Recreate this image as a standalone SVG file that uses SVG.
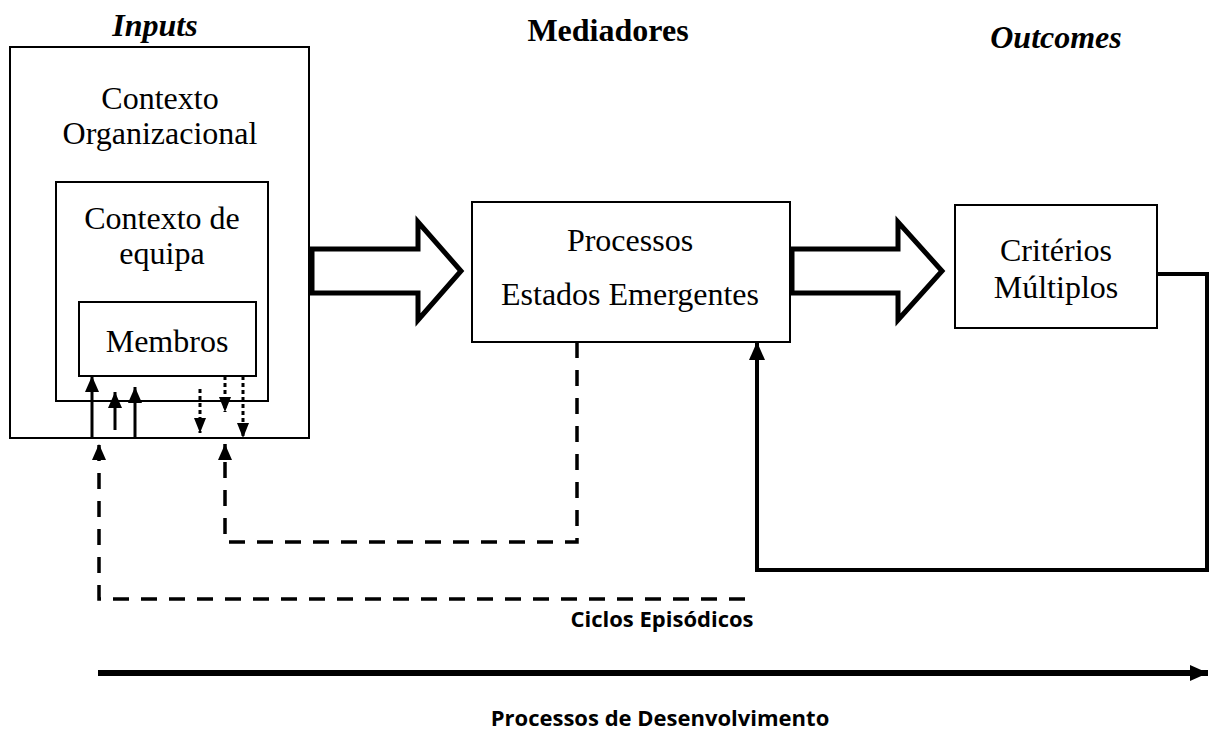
<svg xmlns="http://www.w3.org/2000/svg" width="1210" height="731" viewBox="0 0 1210 731">
<style>
.box{fill:#fff;stroke:#000;stroke-width:2}
.t{font-family:"Liberation Serif","Times New Roman",serif;font-size:32px;fill:#000;text-anchor:middle}
.h{font-family:"Liberation Serif","Times New Roman",serif;font-size:32px;font-weight:bold;fill:#000;text-anchor:middle}
.s{font-family:"Open Sans","Liberation Sans",sans-serif;font-size:22px;font-weight:bold;fill:#000;text-anchor:middle}
.big{fill:#fff;stroke:#000;stroke-width:5;stroke-linejoin:miter}
.solid{fill:none;stroke:#000;stroke-width:3}
.thick{fill:none;stroke:#000;stroke-width:4}
.dash{fill:none;stroke:#000;stroke-width:3.5;stroke-dasharray:16 12}
.dot{fill:none;stroke:#000;stroke-width:3;stroke-dasharray:4 3}
</style>
<defs>
<marker id="ah" markerUnits="userSpaceOnUse" markerWidth="16" markerHeight="14" refX="16" refY="7" orient="auto"><path d="M0,0 L16,7 L0,14 z" fill="#000"/></marker>
<marker id="ahs" markerUnits="userSpaceOnUse" markerWidth="15" markerHeight="12" refX="15" refY="6" orient="auto"><path d="M0,0 L15,6 L0,12 z" fill="#000"/></marker>
<marker id="ahl" markerUnits="userSpaceOnUse" markerWidth="18" markerHeight="16" refX="18" refY="8" orient="auto"><path d="M0,0 L18,8 L0,16 z" fill="#000"/></marker>
</defs>

<g id="headers">
<text class="h" x="155" y="36" font-style="italic">Inputs</text>
<text class="h" x="608" y="41">Mediadores</text>
<text class="h" x="1056" y="48" font-style="italic">Outcomes</text>
</g>

<g id="contexto-organizacional">
<rect class="box" x="10" y="47" width="299" height="391"/>
<text class="t" x="160" y="109">Contexto</text>
<text class="t" x="160" y="144">Organizacional</text>
</g>
<g id="contexto-equipa">
<rect class="box" x="56" y="182" width="212" height="219"/>
<text class="t" x="162" y="229">Contexto de</text>
<text class="t" x="162" y="264">equipa</text>
</g>
<g id="membros">
<rect class="box" x="79" y="302" width="177" height="74"/>
<text class="t" x="167" y="352">Membros</text>
</g>
<g id="processos">
<rect class="box" x="472" y="202" width="318" height="140"/>
<text class="t" x="630" y="251">Processos</text>
<text class="t" x="630" y="305">Estados Emergentes</text>
</g>
<g id="criterios">
<rect class="box" x="955" y="205" width="202" height="123"/>
<text class="t" x="1056" y="261">Critérios</text>
<text class="t" x="1056" y="298">Múltiplos</text>
</g>

<g id="connectors">
<polygon class="big" points="312,249 418,249 418,222 461,271 418,320 418,293 312,293"/>
<polygon class="big" points="792,249 898,249 898,222 942,271 898,320 898,293 792,293"/>
<line class="solid" x1="92" y1="438" x2="92" y2="376" marker-end="url(#ah)"/>
<line class="solid" x1="115" y1="430" x2="115" y2="392" marker-end="url(#ah)"/>
<line class="solid" x1="135" y1="438" x2="135" y2="387" marker-end="url(#ah)"/>
<line class="dot" x1="200" y1="389" x2="200" y2="433" marker-end="url(#ahs)"/>
<line class="dot" x1="225" y1="376" x2="225" y2="412" marker-end="url(#ahs)"/>
<line class="dot" x1="243" y1="376" x2="243" y2="438" marker-end="url(#ahs)"/>
<polyline class="dash" points="577,342 577,542 225,542 225,444" marker-end="url(#ah)"/>
<polyline class="dash" points="745,599 99,599 99,444" marker-end="url(#ah)"/>
<polyline class="thick" points="1157,274 1207,274 1207,570 757,570 757,342" marker-end="url(#ahl)"/>
<line x1="98" y1="673" x2="1208" y2="673" stroke="#000" stroke-width="6" marker-end="url(#ahl)"/>
</g>

<g id="labels">
<text class="s" x="662" y="627">Ciclos Episódicos</text>
<text class="s" x="660" y="726">Processos de Desenvolvimento</text>
</g>
</svg>
